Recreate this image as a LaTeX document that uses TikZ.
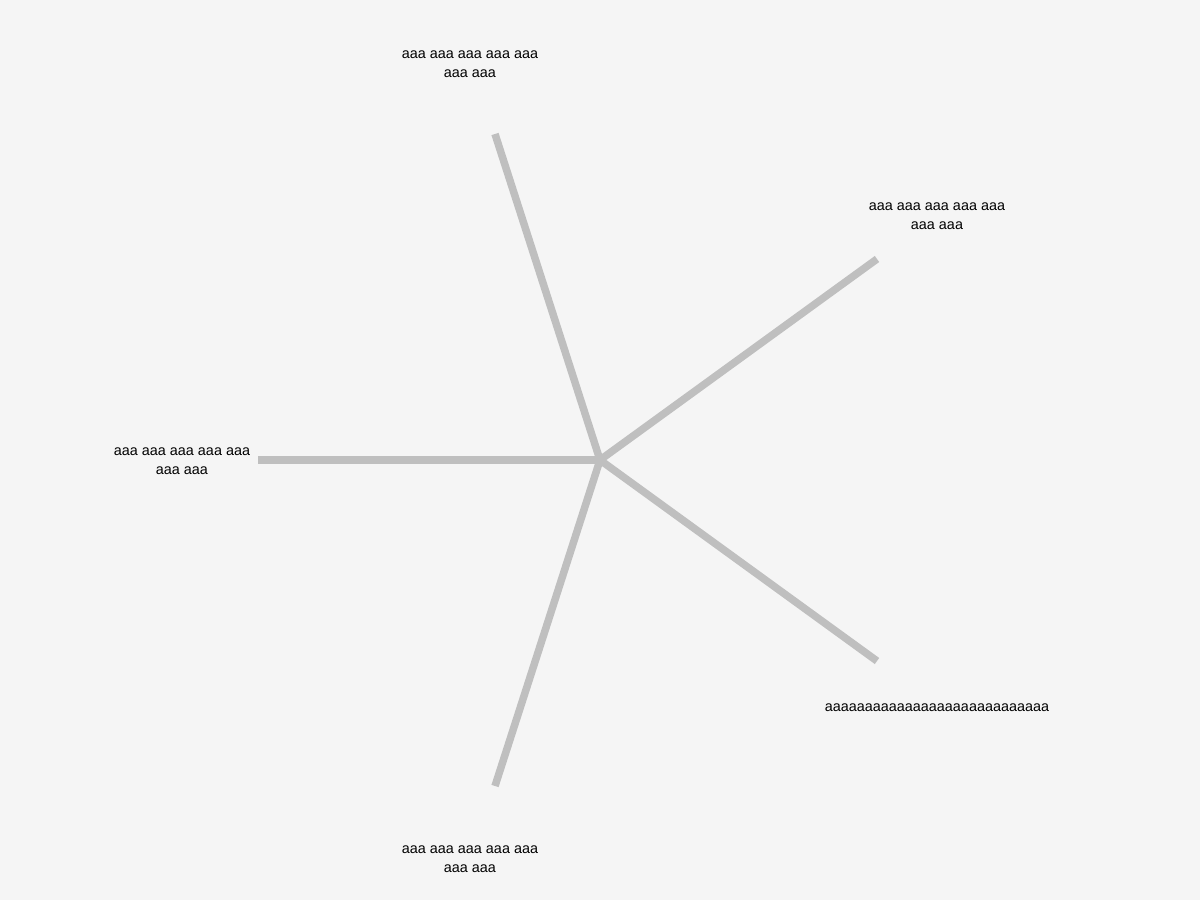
\documentclass[tikz,border=0pt]{standalone}
\usepackage{fontspec}
\setmainfont{Liberation Sans}
\begin{document}
\begin{tikzpicture}[x=1pt,y=-1pt,
  spoke/.style={draw=black!25, line width=7.5pt, line cap=butt},
  lbl/.style={align=center, inner sep=0pt, font=\fontsize{14.4}{19.5}\selectfont, text=black}]
  \fill[black!4] (0,0) rectangle (1200,900);
  \useasboundingbox (0,0) rectangle (1200,900);
  % hub and spoke ends
  \coordinate (hub) at (600,460);
  \coordinate (e1) at (495,134);
  \coordinate (e2) at (877,259);
  \coordinate (e3) at (877,661);
  \coordinate (e4) at (495,786);
  \coordinate (e5) at (258,460);
  % spokes
  \foreach \e in {e1,e2,e3,e4,e5}
    \draw[spoke] (hub) -- (\e);
  % labels
  \node[lbl] (l1) at (470,64) {aaa aaa aaa aaa aaa\\aaa aaa};
  \node[lbl] (l2) at (937,216) {aaa aaa aaa aaa aaa\\aaa aaa};
  \node[lbl] (l3) at (937,708) {aaaaaaaaaaaaaaaaaaaaaaaaaaaa};
  \node[lbl] (l4) at (470,859) {aaa aaa aaa aaa aaa\\aaa aaa};
  \node[lbl] (l5) at (182,461) {aaa aaa aaa aaa aaa\\aaa aaa};
\end{tikzpicture}
\end{document}
